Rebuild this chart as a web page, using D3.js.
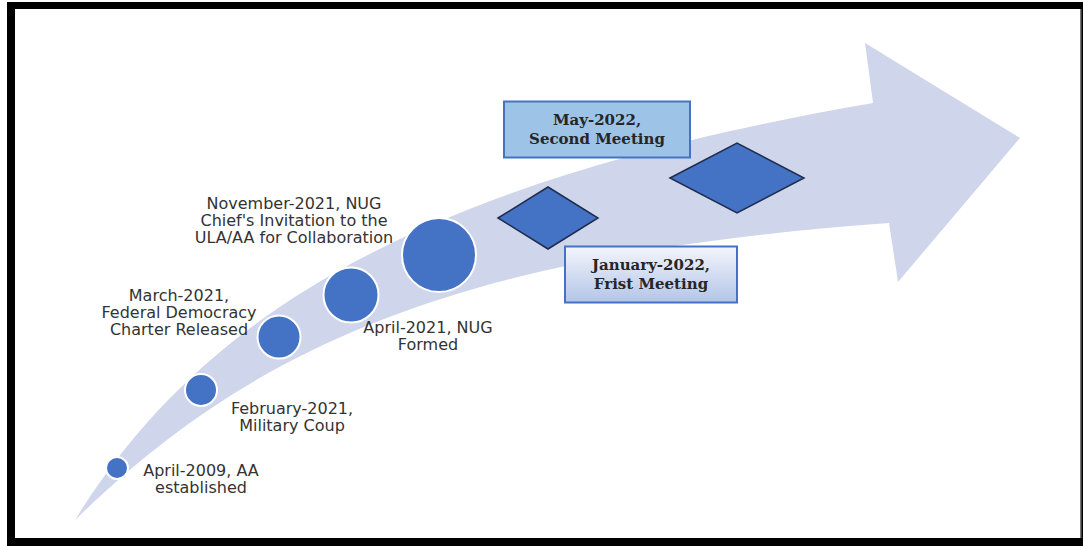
<!DOCTYPE html>
<html><head><meta charset="utf-8">
<script src="https://cdn.jsdelivr.net/npm/d3@7/dist/d3.min.js"></script>
<style>html,body{margin:0;padding:0;background:#fff;}svg{display:block;}</style>
</head><body>
<svg id="chart" width="1083" height="546"></svg>
<script>
// ---- data ----
const dates = ["April-2009","February-2021","March-2021","April-2021","November-2021","January-2022","May-2022"];
const kinds = ["circle","circle","circle","circle","circle","diamond","diamond"];
const labelLines = [
  ["April-2009, AA","established"],
  ["February-2021,","Military Coup"],
  ["March-2021,","Federal Democracy","Charter Released"],
  ["April-2021, NUG","Formed"],
  ["November-2021, NUG","Chief's Invitation to the","ULA/AA for Collaboration"],
  ["January-2022,","Frist Meeting"],
  ["May-2022,","Second Meeting"]
];

// ---- layout ----
const W = 1083, H = 546;
const svg = d3.select("#chart");
const order = d3.scalePoint().domain(dates).range([0, dates.length - 1]);
const steps = d3.range(dates.length);
const xPos = d3.scaleLinear().domain(steps).range([117,201,279,351,439,548,737]);
const yPos = d3.scaleLinear().domain(steps).range([468,390,337,295,255,218,178]);
const sizeW = d3.scaleLinear().domain(steps).range([11,16,21.5,27.5,37,50,67]);
const sizeH = d3.scaleLinear().domain(steps).range([11,16,21.5,27.5,37,31,35]);
// label anchor offsets (centre x, first-line centre y) relative to marker
const labDX = [84, 91, -100, 77, -145, 103, -140];
const labDY = [2, 18, -42, 32, -52, 47, -58];
const lineGap = [17,17,17,17,17,19,19];

// frame
svg.append("rect").attr("x",7).attr("y",2).attr("width",W-7).attr("height",H-2).attr("fill","#000");
svg.append("rect").attr("x",15).attr("y",9).attr("width",1065).attr("height",529).attr("fill","#fff");
svg.append("rect").attr("x",1080).attr("y",9).attr("width",1.5).attr("height",529).attr("fill","#777");

// curved arrow band (shape geometry)
const ap = d3.path();
ap.moveTo(75,520);
ap.bezierCurveTo(199,320, 408,183, 873,103);
ap.lineTo(865,43); ap.lineTo(1020,138); ap.lineTo(898,282); ap.lineTo(889,223);
ap.bezierCurveTo(475,253, 260,338, 75,520);
ap.closePath();
svg.append("path").attr("d", ap.toString()).attr("fill", "#CFD6EB");

const ev = dates.map((d,i) => ({date:d, kind:kinds[i], lines:labelLines[i], i:order(d)}));

// circles
svg.selectAll("circle.ev").data(ev.filter(e => e.kind === "circle")).join("circle")
  .attr("class","ev")
  .attr("cx", d => xPos(d.i)).attr("cy", d => yPos(d.i)).attr("r", d => sizeW(d.i))
  .attr("fill","#4472C4").attr("stroke","#fff").attr("stroke-width",2);

// diamonds
svg.selectAll("path.dm").data(ev.filter(e => e.kind === "diamond")).join("path")
  .attr("class","dm")
  .attr("d", d => {
    const cx = xPos(d.i), cy = yPos(d.i), w = sizeW(d.i), h = sizeH(d.i);
    return `M${cx-w},${cy}L${cx},${cy-h}L${cx+w},${cy}L${cx},${cy+h}Z`;
  })
  .attr("fill","#4472C4").attr("stroke","#1F2D4E").attr("stroke-width",1.5);

// gradient for Jan box
const defs = svg.append("defs");
const g = defs.append("linearGradient").attr("id","janGrad").attr("x1",0).attr("y1",0).attr("x2",0).attr("y2",1);
g.append("stop").attr("offset","0%").attr("stop-color","#F3F5FB");
g.append("stop").attr("offset","100%").attr("stop-color","#B3C5E8");

// boxes for diamond labels
const boxW = [0,0,0,0,0,172,186], boxH = [0,0,0,0,0,56,56];
const boxFill = [null,null,null,null,null,"url(#janGrad)","#9DC3E6"];
ev.filter(e => e.kind === "diamond").forEach(e => {
  const cx = xPos(e.i) + labDX[e.i], cy = yPos(e.i) + labDY[e.i] + lineGap[e.i]/2;
  svg.append("rect").attr("x", cx - boxW[e.i]/2).attr("y", cy - boxH[e.i]/2)
    .attr("width", boxW[e.i]).attr("height", boxH[e.i])
    .attr("fill", boxFill[e.i]).attr("stroke","#4472C4").attr("stroke-width",2);
});

// labels
ev.forEach(e => {
  const isBox = e.kind === "diamond";
  const t = svg.append("text")
    .attr("text-anchor","middle")
    .attr("font-family", isBox ? "'DejaVu Serif', serif" : "'DejaVu Sans', sans-serif")
    .attr("font-size", isBox ? 15 : 16)
    .attr("font-weight", isBox ? "bold" : "normal")
    .attr("fill", isBox ? "#262626" : "#333333");
  e.lines.forEach((ln, k) => {
    t.append("tspan").attr("x", xPos(e.i) + labDX[e.i])
      .attr("y", yPos(e.i) + labDY[e.i] + k * lineGap[e.i])
      .attr("dominant-baseline","central").text(ln);
  });
});
</script>
</body></html>
